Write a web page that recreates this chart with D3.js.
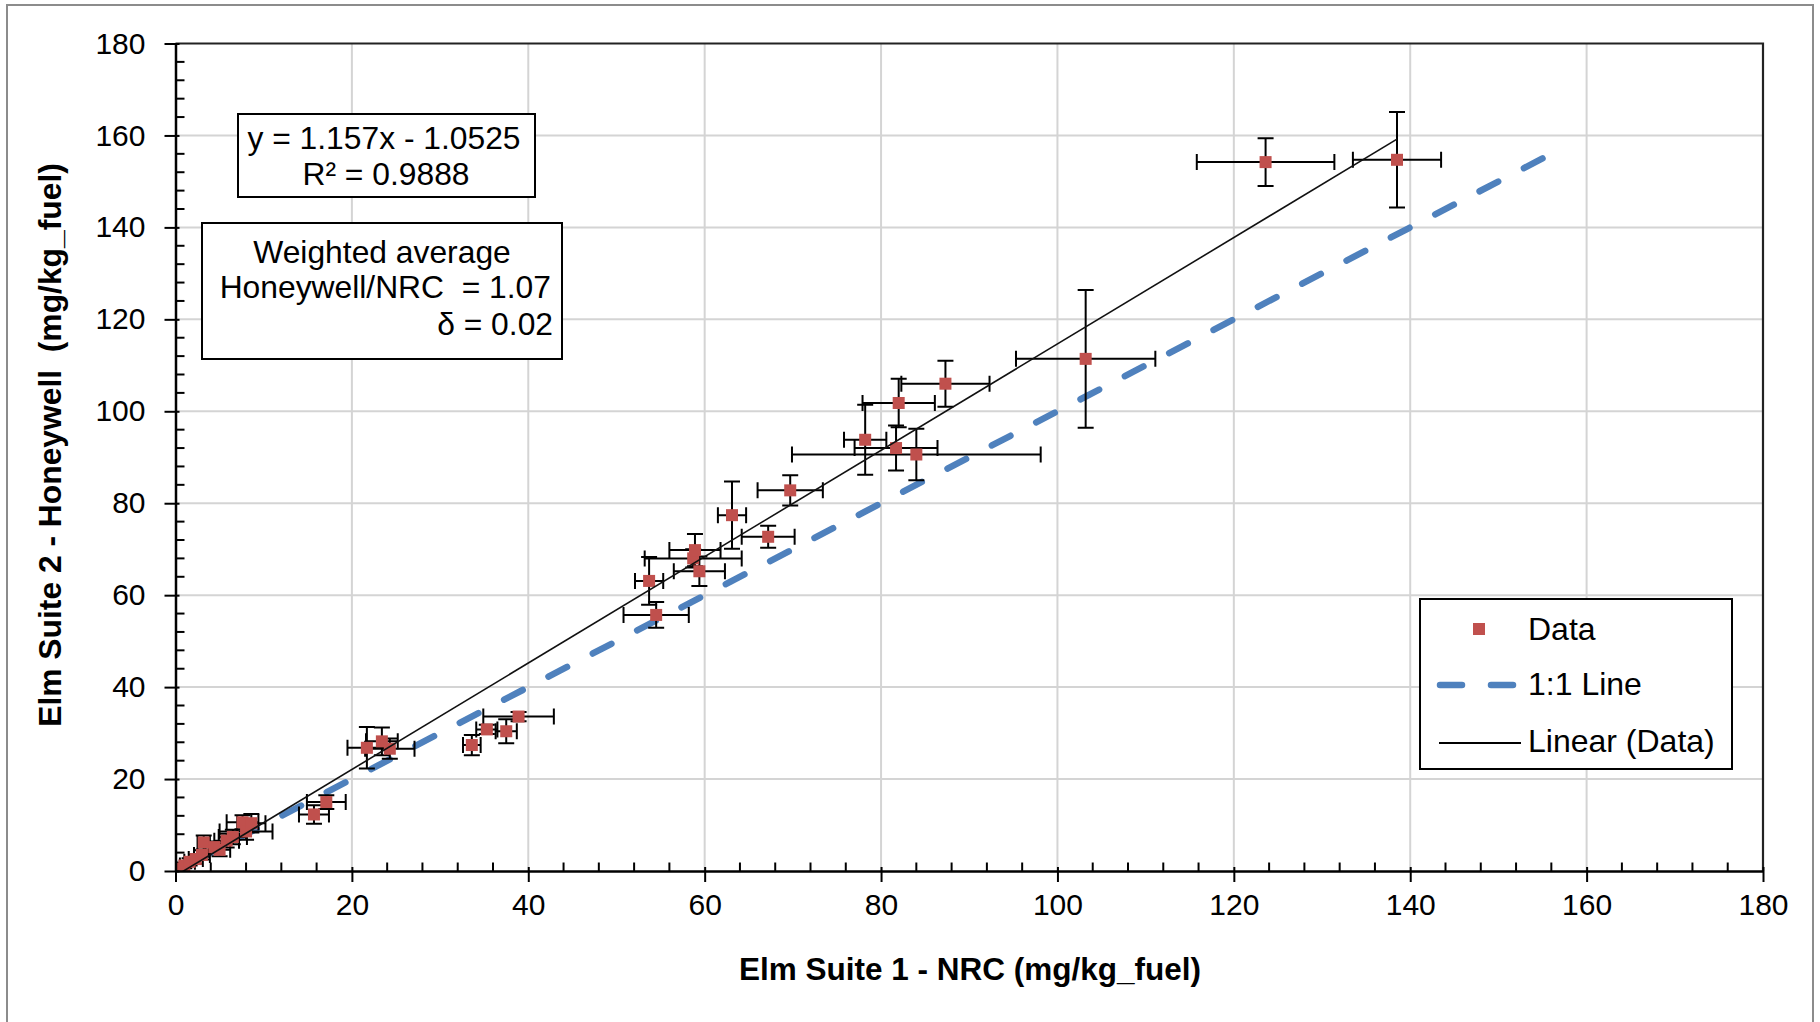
<!DOCTYPE html>
<html>
<head>
<meta charset="utf-8">
<script src="https://cdn.jsdelivr.net/npm/d3@7"></script>
<style>
  html, body { margin: 0; padding: 0; background: #fff; }
  svg text { font-family: "Liberation Sans", Arial, sans-serif; fill: #000; }
</style>
</head>
<body>
<svg id="chart" width="1820" height="1022"></svg>
<script>
// ---- data ----
const xValues = [0.4, 1.0, 1.6, 2.3, 3.0, 3.2, 4.4, 5.0, 5.8, 6.5, 7.6, 8.0, 8.6,
                 15.7, 17.1,
                 21.7, 23.4, 24.3,
                 33.6, 35.3, 37.5, 38.9,
                 54.5, 53.7, 59.4, 58.7, 58.9, 63.1, 67.2, 69.7,
                 78.2, 81.7, 84.0, 82.0, 87.3, 103.2, 123.6, 138.5];
const yValues = [0.5, 1.2, 2.0, 2.6, 3.5, 6.2, 5.2, 4.6, 6.6, 7.4, 10.6, 8.6, 10.4,
                 12.3, 15.0,
                 26.8, 28.2, 26.6,
                 27.4, 30.8, 30.4, 33.6,
                 55.7, 63.1, 65.2, 68.0, 69.8, 77.4, 72.7, 82.8,
                 93.8, 92.0, 90.6, 101.8, 106.0, 111.4, 154.2, 154.7];
const xErrors = [0.3, 0.5, 0.6, 0.8, 0.9, 0.7, 1.0, 1.2, 1.4, 1.6, 1.8, 3.0, 1.6,
                 1.7, 2.2,
                 2.2, 1.8, 2.8,
                 1.0, 1.2, 1.2, 4.0,
                 3.7, 1.6, 2.9, 5.5, 2.9, 1.6, 3.0, 3.7,
                 2.4, 4.7, 14.1, 4.1, 5.0, 7.9, 7.8, 5.0];
const yErrors = [0.4, 0.6, 0.8, 1.0, 1.0, 1.5, 1.2, 1.4, 1.5, 1.6, 1.5, 1.8, 2.0,
                 2.0, 1.5,
                 4.5, 3.0, 2.2,
                 2.2, 1.0, 2.6, 1.0,
                 2.8, 5.2, 3.2, 2.0, 3.5, 7.3, 2.4, 3.3,
                 7.6, 4.9, 5.6, 5.3, 5.0, 15.0, 5.2, 10.4];
const trendSlope = 1.157;
const trendIntercept = -1.0525;
const oneToOneRange = [0, 155];
const xTicks = [0, 20, 40, 60, 80, 100, 120, 140, 160, 180];
const yTicks = [0, 20, 40, 60, 80, 100, 120, 140, 160, 180];
const minorStep = 4;
const xTitle = "Elm Suite 1 - NRC (mg/kg_fuel)";
const yTitle = "Elm Suite 2 - Honeywell\u00a0\u00a0(mg/kg_fuel)";
const eqLines = ["y = 1.157x - 1.0525", "R\u00b2 = 0.9888"];
const avgLines = ["Weighted average", "Honeywell/NRC\u00a0\u00a0= 1.07", "\u03b4 = 0.02"];
const legendLabels = ["Data", "1:1 Line", "Linear (Data)"];

// ---- layout ----
const L = 175.5, R = 1763, T = 43.5, B = 871;
const svg = d3.select("#chart");
const x = d3.scaleLinear().domain([0, 180]).range([L, R]);
const y = d3.scaleLinear().domain([0, 180]).range([B, T]);

const RED = "#C0504D", BLUE = "#4F81BD", GRID = "#D4D4D4";

// outer border
svg.append("rect").attr("x", 7).attr("y", 5).attr("width", 1806).attr("height", 1040)
  .attr("fill", "none").attr("stroke", "#8c8c8c").attr("stroke-width", 2);

// grid
const g = svg.append("g");
g.selectAll(".vg").data(xTicks.filter(d => d > 0 && d < 180)).enter().append("line")
  .attr("x1", d => x(d)).attr("x2", d => x(d)).attr("y1", T).attr("y2", B)
  .attr("stroke", GRID).attr("stroke-width", 2);
g.selectAll(".hg").data(yTicks.filter(d => d > 0 && d < 180)).enter().append("line")
  .attr("y1", d => y(d)).attr("y2", d => y(d)).attr("x1", L).attr("x2", R)
  .attr("stroke", GRID).attr("stroke-width", 2);

// plot border (top / right)
svg.append("path").attr("d", `M${L},${T}H${R}V${B}`).attr("fill", "none")
  .attr("stroke", "#222").attr("stroke-width", 2.2);

// clip
svg.append("clipPath").attr("id", "clip").append("rect")
  .attr("x", L).attr("y", T).attr("width", R - L).attr("height", B - T);
const plot = svg.append("g").attr("clip-path", "url(#clip)");

// 1:1 line (drawn from the far end so the pattern ends on a dash)
plot.append("line")
  .attr("x1", x(oneToOneRange[1])).attr("y1", y(oneToOneRange[1]))
  .attr("x2", x(oneToOneRange[0])).attr("y2", y(oneToOneRange[0]))
  .attr("stroke", BLUE).attr("stroke-width", 6.5).attr("stroke-linecap", "round")
  .attr("stroke-dasharray", "21 29");

// error bars
const pts = xValues.map((v, i) => ({x: v, y: yValues[i], ex: xErrors[i], ey: yErrors[i]}));
const cap = 8;
const eb = plot.append("g").attr("stroke", "#000").attr("stroke-width", 2).attr("fill", "none");
pts.forEach(p => {
  const cx = x(p.x), cy = y(p.y);
  const x0 = x(p.x - p.ex), x1 = x(p.x + p.ex), y0 = y(p.y - p.ey), y1 = y(p.y + p.ey);
  eb.append("path").attr("d",
    `M${x0},${cy}H${x1}M${x0},${cy - cap}V${cy + cap}M${x1},${cy - cap}V${cy + cap}` +
    `M${cx},${y0}V${y1}M${cx - cap},${y0}H${cx + cap}M${cx - cap},${y1}H${cx + cap}`);
});

// markers
const ms = 12;
plot.append("g").selectAll("rect").data(pts).enter().append("rect")
  .attr("x", d => x(d.x) - ms / 2).attr("y", d => y(d.y) - ms / 2)
  .attr("width", ms).attr("height", ms).attr("fill", RED);

// trendline
const tx0 = d3.min(xValues), tx1 = d3.max(xValues);
plot.append("line")
  .attr("x1", x(tx0)).attr("y1", y(trendSlope * tx0 + trendIntercept))
  .attr("x2", x(tx1)).attr("y2", y(trendSlope * tx1 + trendIntercept))
  .attr("stroke", "#111").attr("stroke-width", 1.6);

// axes
const xAxis = d3.axisBottom(x).tickValues(xTicks).tickSizeInner(11).tickSizeOuter(0).tickPadding(12);
const xg = svg.append("g").attr("transform", `translate(0,${B})`).call(xAxis);
xg.select(".domain").attr("stroke", "#000").attr("stroke-width", 2.5);
xg.selectAll(".tick line").attr("stroke", "#000").attr("stroke-width", 2).attr("y1", -4);
xg.selectAll(".tick text").attr("font-size", 30).attr("fill", "#000")
  .attr("font-family", "Liberation Sans, Arial, sans-serif");

const yAxis = d3.axisLeft(y).tickValues(yTicks).tickSizeInner(11).tickSizeOuter(0).tickPadding(19);
const yg = svg.append("g").attr("transform", `translate(${L},0)`).call(yAxis);
yg.select(".domain").attr("stroke", "#000").attr("stroke-width", 2.5);
yg.selectAll(".tick line").attr("stroke", "#000").attr("stroke-width", 2).attr("x1", 4);
yg.selectAll(".tick text").attr("font-size", 30).attr("fill", "#000")
  .attr("font-family", "Liberation Sans, Arial, sans-serif");

// minor ticks (inside)
const minors = d3.range(0, 180 + 0.001, minorStep).filter(v => v % 20 !== 0);
svg.append("g").selectAll("line").data(minors).enter().append("line")
  .attr("x1", d => x(d)).attr("x2", d => x(d)).attr("y1", B).attr("y2", B - 8.5)
  .attr("stroke", "#000").attr("stroke-width", 2);
svg.append("g").selectAll("line").data(minors).enter().append("line")
  .attr("y1", d => y(d)).attr("y2", d => y(d)).attr("x1", L).attr("x2", L + 9)
  .attr("stroke", "#000").attr("stroke-width", 2);

// axis titles
svg.append("text").attr("x", 970).attr("y", 980).attr("text-anchor", "middle")
  .attr("font-size", 31.5).attr("font-weight", "bold").text(xTitle);
svg.append("text").attr("transform", "translate(61,445) rotate(-90)").attr("text-anchor", "middle")
  .attr("font-size", 31.8).attr("font-weight", "bold").text(yTitle);

// equation box
svg.append("rect").attr("x", 238).attr("y", 114).attr("width", 297).attr("height", 83)
  .attr("fill", "#fff").attr("stroke", "#000").attr("stroke-width", 2);
svg.append("text").attr("x", 384).attr("y", 149).attr("text-anchor", "middle")
  .attr("font-size", 31.8).text(eqLines[0]);
svg.append("text").attr("x", 386).attr("y", 185).attr("text-anchor", "middle")
  .attr("font-size", 31.8).text(eqLines[1]);

// weighted average box
svg.append("rect").attr("x", 202).attr("y", 223).attr("width", 360).attr("height", 136)
  .attr("fill", "#fff").attr("stroke", "#000").attr("stroke-width", 2);
svg.append("text").attr("x", 382).attr("y", 263).attr("text-anchor", "middle")
  .attr("font-size", 31.8).text(avgLines[0]);
svg.append("text").attr("x", 551).attr("y", 298).attr("text-anchor", "end")
  .attr("font-size", 31.8).text(avgLines[1]);
svg.append("text").attr("x", 553).attr("y", 335).attr("text-anchor", "end")
  .attr("font-size", 31.8).text(avgLines[2]);

// legend
const lg = svg.append("g");
lg.append("rect").attr("x", 1420).attr("y", 599).attr("width", 312).attr("height", 170)
  .attr("fill", "#fff").attr("stroke", "#000").attr("stroke-width", 2);
lg.append("rect").attr("x", 1479 - ms / 2).attr("y", 629 - ms / 2).attr("width", ms).attr("height", ms)
  .attr("fill", RED);
lg.append("line").attr("x1", 1440).attr("x2", 1513).attr("y1", 685).attr("y2", 685)
  .attr("stroke", BLUE).attr("stroke-width", 6.5).attr("stroke-linecap", "round")
  .attr("stroke-dasharray", "22 29");
lg.append("line").attr("x1", 1439).attr("x2", 1521).attr("y1", 743).attr("y2", 743)
  .attr("stroke", "#000").attr("stroke-width", 2);
[640, 695, 752].forEach((yy, i) => {
  lg.append("text").attr("x", 1528).attr("y", yy).attr("font-size", 32).text(legendLabels[i]);
});
</script>
</body>
</html>
